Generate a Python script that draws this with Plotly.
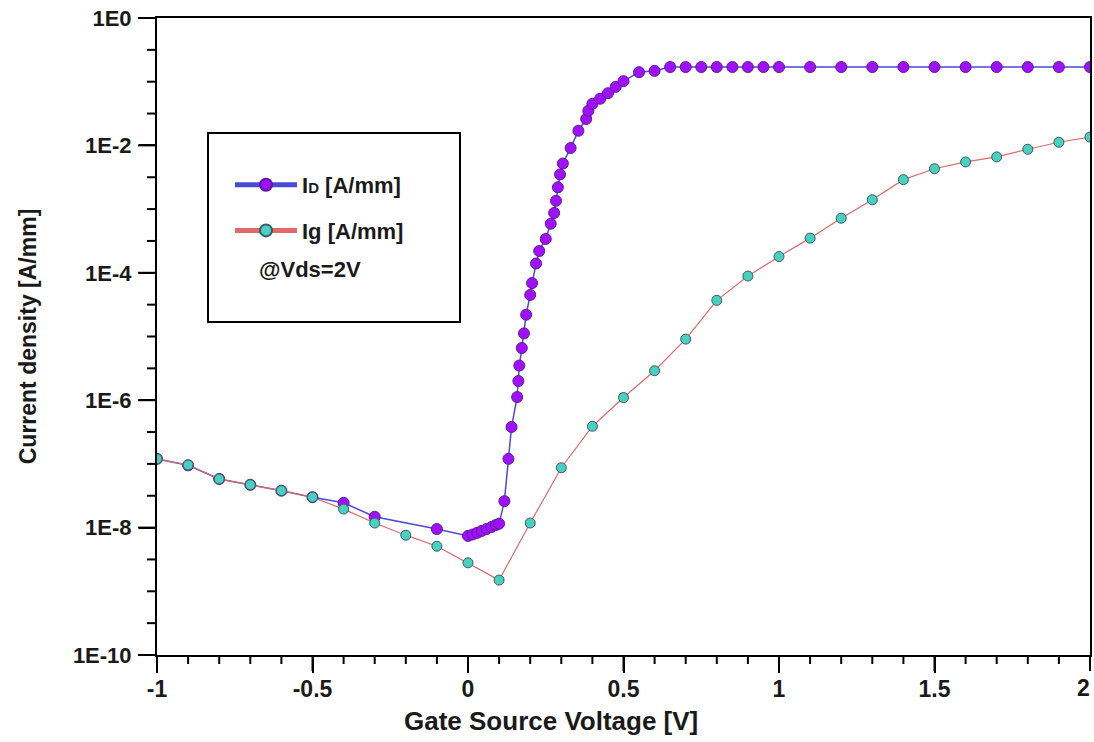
import math
import plotly.graph_objects as go

# ---- data ----
vg_id = [-1, -0.9, -0.8, -0.7, -0.6, -0.5, -0.4, -0.3, -0.1,
         0, 0.015, 0.03, 0.045, 0.06, 0.075, 0.09, 0.1,
         0.117, 0.13, 0.14, 0.158, 0.162, 0.165, 0.173, 0.18, 0.187, 0.2, 0.206,
         0.219, 0.229, 0.25, 0.266, 0.277, 0.283, 0.289, 0.296, 0.305, 0.33,
         0.355, 0.38, 0.387, 0.4, 0.425, 0.45, 0.475, 0.5, 0.55, 0.6, 0.65,
         0.7, 0.75, 0.8, 0.85, 0.9, 0.95, 1.0, 1.1, 1.2, 1.3, 1.4, 1.5, 1.6,
         1.7, 1.8, 1.9, 2.0]
id_vals = [1.2e-7, 9.5e-8, 5.8e-8, 4.7e-8, 3.8e-8, 3.0e-8, 2.45e-8, 1.48e-8, 9.5e-9,
           7.4e-9, 7.8e-9, 8.3e-9, 8.9e-9, 9.5e-9, 1.02e-8, 1.1e-8, 1.15e-8,
           2.6e-8, 1.2e-7, 3.8e-7, 1.12e-6, 2.0e-6, 3.5e-6, 6.6e-6, 1.12e-5, 2.2e-5, 4.5e-5, 6.9e-5,
           1.4e-4, 2.2e-4, 3.4e-4, 5.9e-4, 8.7e-4, 1.35e-3, 2.2e-3, 3.5e-3, 5.2e-3, 9.1e-3,
           1.7e-2, 2.6e-2, 3.5e-2, 4.5e-2, 5.4e-2, 6.6e-2, 8.3e-2, 0.102, 0.141, 0.148, 0.17,
           0.17, 0.17, 0.17, 0.17, 0.17, 0.17, 0.17, 0.17, 0.17, 0.17, 0.17, 0.17, 0.17,
           0.17, 0.17, 0.17, 0.17]

vg_ig = [-1, -0.9, -0.8, -0.7, -0.6, -0.5, -0.4, -0.3, -0.2, -0.1, 0, 0.1, 0.2,
         0.3, 0.4, 0.5, 0.6, 0.7, 0.8, 0.9, 1.0, 1.1, 1.2, 1.3, 1.4, 1.5, 1.6,
         1.7, 1.8, 1.9, 2.0]
ig_vals = [1.2e-7, 9.6e-8, 5.8e-8, 4.7e-8, 3.8e-8, 3.0e-8, 1.95e-8, 1.18e-8, 7.6e-9,
           5.1e-9, 2.8e-9, 1.5e-9, 1.18e-8, 8.7e-8, 3.9e-7, 1.1e-6, 2.9e-6, 9.1e-6,
           3.7e-5, 8.9e-5, 1.8e-4, 3.5e-4, 7.2e-4, 1.4e-3, 2.9e-3, 4.3e-3, 5.5e-3,
           6.6e-3, 8.7e-3, 1.12e-2, 1.35e-2]

x_ticks = [-1, -0.5, 0, 0.5, 1, 1.5, 2]
x_labels = ["-1", "-0.5", "0", "0.5", "1", "1.5", "2"]
x_minor = [round(-1 + 0.1 * k, 1) for k in range(31)]
y_ticks = [1, 1e-2, 1e-4, 1e-6, 1e-8, 1e-10]
y_labels = ["1E0", "1E-2", "1E-4", "1E-6", "1E-8", "1E-10"]
y_minor = [10 ** (-k / 2) for k in range(0, 21)]

X_RANGE = [-1, 2]
Y_RANGE = [-10, 0]   # log10 units

FONT = "Liberation Sans, Arial, sans-serif"
TXT = "#1a1a1a"

fig = go.Figure()
fig.add_trace(go.Scatter(
    x=vg_id, y=id_vals, mode="lines+markers",
    name='I<span style="font-size:15px">D</span> [A/mm]', legendgroup="a",
    line=dict(color="#4a4ad8", width=1.5),
    marker=dict(size=11, color="#a010f8", line=dict(color="#5a1aa0", width=1)),
))
fig.add_trace(go.Scatter(
    x=vg_ig, y=ig_vals, mode="lines+markers",
    name="Ig [A/mm]", legendgroup="b",
    line=dict(color="#e06a6a", width=1.2),
    marker=dict(size=10, color="#48d0c0", line=dict(color="#3a5a66", width=1)),
))

W, H = 1094, 742
L, R, T, B = 157, 4, 18, 87
pw, ph = W - L - R, H - T - B

def px(xp):
    return (xp - L) / pw

def py(yp):
    return (H - B - yp) / ph

# tick marks (positions mapped from the axis ranges into the plot domain)
TICK = dict(color="black", width=2)
for v in x_minor:
    major = any(abs(v - t) < 1e-9 for t in x_ticks)
    fx = (v - X_RANGE[0]) / (X_RANGE[1] - X_RANGE[0])
    fig.add_shape(type="line", xref="paper", yref="paper", x0=fx, x1=fx,
                  y0=0, y1=-(16 if major else 9) / ph, line=TICK, layer="above")
for v in y_minor:
    lv = math.log10(v)
    major = any(abs(lv - math.log10(t)) < 1e-9 for t in y_ticks)
    fy = (lv - Y_RANGE[0]) / (Y_RANGE[1] - Y_RANGE[0])
    fig.add_shape(type="line", xref="paper", yref="paper", y0=fy, y1=fy,
                  x0=0, x1=-(19 if major else 10) / pw, line=TICK, layer="above")

fig.add_shape(type="rect", xref="paper", yref="paper", opacity=1,
              x0=px(208), x1=px(460), y0=py(322), y1=py(133),
              line=dict(color="black", width=2), fillcolor="rgba(0,0,0,0)")
fig.add_annotation(xref="paper", yref="paper", x=px(310), y=py(269),
                   xanchor="center", yanchor="middle",
                   text="@Vds=2V", showarrow=False,
                   font=dict(family=FONT, size=22, color=TXT, weight="bold"))
fig.add_annotation(xref="paper", yref="paper", x=px(551), y=py(721),
                   xanchor="center", yanchor="middle",
                   text="Gate Source Voltage [V]", showarrow=False,
                   font=dict(family=FONT, size=26, color=TXT, weight="bold"))
# last x tick label, right-aligned at the axis end so it stays inside the page
fig.add_annotation(xref="x", yref="paper", x=x_ticks[-1], y=py(688),
                   xanchor="right", yanchor="middle", xshift=2,
                   text=x_labels[-1], showarrow=False,
                   font=dict(family=FONT, size=23, color=TXT, weight="bold"))

fig.update_layout(
    template="none",
    width=W, height=H,
    margin=dict(l=L, r=R, t=T, b=B),
    paper_bgcolor="white", plot_bgcolor="white",
    showlegend=True,
    legend=dict(x=px(230), y=py(164), xanchor="left", yanchor="top",
                bgcolor="rgba(0,0,0,0)", borderwidth=0,
                font=dict(family=FONT, size=22, color=TXT, weight="bold"),
                traceorder="grouped", tracegroupgap=14, itemwidth=62,
                itemsizing="constant"),
    xaxis=dict(
        range=X_RANGE, showgrid=False, zeroline=False,
        showline=True, linecolor="black", linewidth=2, mirror=True,
        tickmode="array", tickvals=x_ticks[:-1], ticktext=x_labels[:-1],
        ticks="outside", ticklen=16, tickwidth=2, tickcolor="black",
        ticklabeloverflow="allow", ticklabelstandoff=-4,
        tickfont=dict(family=FONT, size=23, color=TXT, weight="bold"),
        automargin=False,
    ),
    yaxis=dict(
        type="log", range=Y_RANGE, showgrid=False, zeroline=False,
        showline=True, linecolor="black", linewidth=2, mirror=True,
        tickmode="array", tickvals=y_ticks, ticktext=y_labels,
        ticks="outside", ticklen=16, tickwidth=2, tickcolor="black",
        ticklabelstandoff=3,
        tickfont=dict(family=FONT, size=22, color=TXT, weight="bold"),
        title=dict(text="Current density [A/mm]", standoff=30,
                   font=dict(family=FONT, size=23, color=TXT, weight="bold")),
        automargin=False,
    ),
)

fig.write_html("out.html", config={"displayModeBar": False},
               post_script="document.body.style.margin='0px';")
